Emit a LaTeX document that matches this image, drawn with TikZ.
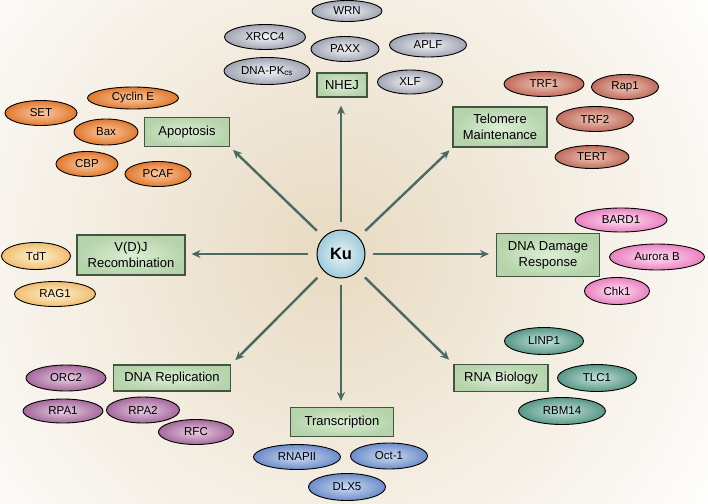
\documentclass[tikz,border=0pt]{standalone}
\usepackage{fontspec}
\setmainfont{Liberation Sans}
\usetikzlibrary{arrows.meta,shapes.geometric}
\definecolor{bgc}{RGB}{232,218,194}
\definecolor{arrowc}{RGB}{74,106,98}
\definecolor{boxin}{RGB}{220,237,213}
\definecolor{boxout}{RGB}{182,212,172}
\definecolor{boxline}{RGB}{66,84,66}
\definecolor{gin}{RGB}{244,245,248}\definecolor{gout}{RGB}{160,164,178}
\definecolor{oin}{RGB}{252,204,164}\definecolor{oout}{RGB}{224,120,48}
\definecolor{rin}{RGB}{242,198,184}\definecolor{rout}{RGB}{190,108,92}
\definecolor{pin}{RGB}{255,226,244}\definecolor{pout}{RGB}{234,128,192}
\definecolor{yin}{RGB}{255,242,208}\definecolor{yout}{RGB}{240,190,114}
\definecolor{vin}{RGB}{234,206,230}\definecolor{vout}{RGB}{164,104,154}
\definecolor{bin}{RGB}{206,220,244}\definecolor{bout}{RGB}{108,140,200}
\definecolor{tin}{RGB}{196,228,218}\definecolor{tout}{RGB}{88,150,134}
\definecolor{kin}{RGB}{232,244,248}\definecolor{kout}{RGB}{160,202,218}
\begin{document}
\begin{tikzpicture}[x=1pt,y=-1pt,
  catbox/.style={draw=boxline,line width=1.1pt,inner color=boxin,outer color=boxout,
    rectangle,inner sep=0pt,align=center,font=\fontsize{13}{16}\selectfont},
  prot/.style={ellipse,draw=black,line width=0.9pt,inner sep=0pt,
    font=\fontsize{11.5}{13}\selectfont},
  pg/.style={prot,inner color=gin,outer color=gout},
  po/.style={prot,inner color=oin,outer color=oout},
  pr/.style={prot,inner color=rin,outer color=rout},
  pp/.style={prot,inner color=pin,outer color=pout},
  py/.style={prot,inner color=yin,outer color=yout},
  pv/.style={prot,inner color=vin,outer color=vout},
  pb/.style={prot,inner color=bin,outer color=bout},
  pt/.style={prot,inner color=tin,outer color=tout},
  link/.style={draw=arrowc,line width=2.4pt,-{Stealth[length=9pt,width=8pt]}}
]
\useasboundingbox (0,0) rectangle (708,503);
\begin{scope}
\clip (0,0) rectangle (708,503);
\shade[inner color=bgc,outer color=white] (330,250) circle (470);
\end{scope}

% Ku
\node[circle,draw=black,line width=1pt,inner color=kin,outer color=kout,minimum size=48pt,inner sep=0pt,
  font=\fontsize{16.5}{18}\selectfont\bfseries] (ku) at (341,254) {Ku};

% categories
\node[catbox,minimum width=50pt,minimum height=24pt] (nhej) at (342,85) {NHEJ};
\node[catbox,minimum width=85pt,minimum height=29pt] (apop) at (187,132) {Apoptosis};
\node[catbox,minimum width=94pt,minimum height=40pt] (telo) at (500,127) {Telomere\\Maintenance};
\node[catbox,minimum width=108pt,minimum height=40pt] (vdj) at (131,255) {V(D)J\\Recombination};
\node[catbox,minimum width=103pt,minimum height=43pt] (ddr) at (548,255) {DNA Damage\\Response};
\node[catbox,minimum width=117pt,minimum height=26pt] (rep) at (172,378) {DNA Replication};
\node[catbox,minimum width=94pt,minimum height=27pt] (rna) at (501,378) {RNA Biology};
\node[catbox,minimum width=103pt,minimum height=29pt] (trans) at (342,422) {Transcription};

% arrows
\draw[link,shorten <=8pt,shorten >=8pt] (ku.north) -- (ku.north |- nhej.south);
\draw[link,shorten <=9pt,shorten >=4pt] (ku) -- (apop.south east);
\draw[link,shorten <=9pt,shorten >=4pt] (ku) -- (telo.south west);
\draw[link,shorten <=9pt,shorten >=6pt] (ku.west) -- (ku.west -| vdj.east);
\draw[link,shorten <=7pt,shorten >=7pt] (ku.east) -- (ku.east -| ddr.west);
\draw[link,shorten <=9pt,shorten >=6pt] (ku) -- (rep.north east);
\draw[link,shorten <=9pt,shorten >=6pt] (ku) -- (rna.north west);
\draw[link,shorten <=6pt,shorten >=6pt] (ku.south) -- (ku.south |- trans.north);

% NHEJ
\node[pg,minimum width=70pt,minimum height=21pt] (wrn) at (347,11) {WRN};
\node[pg,minimum width=81pt,minimum height=25pt] (xrcc4) at (265,37) {XRCC4};
\node[pg,minimum width=68pt,minimum height=25pt] (paxx) at (345,49) {PAXX};
\node[pg,minimum width=77pt,minimum height=24pt] (aplf) at (428,45) {APLF};
\node[pg,minimum width=86pt,minimum height=27pt] (dnapk) at (267,71) {DNA-PK\textsubscript{cs}};
\node[pg,minimum width=65pt,minimum height=24pt] (xlf) at (410,82) {XLF};

% Apoptosis
\node[po,minimum width=91pt,minimum height=22pt] (cyce) at (133,98) {Cyclin E};
\node[po,minimum width=72pt,minimum height=25pt] (set) at (41,113) {SET};
\node[po,minimum width=64pt,minimum height=26pt] (bax) at (106,132) {Bax};
\node[po,minimum width=62pt,minimum height=25pt] (cbp) at (87,164) {CBP};
\node[po,minimum width=66pt,minimum height=25pt] (pcaf) at (158,174) {PCAF};

% Telomere
\node[pr,minimum width=80pt,minimum height=25pt] (trf1) at (544,84) {TRF1};
\node[pr,minimum width=67pt,minimum height=25pt] (rap1) at (625,87) {Rap1};
\node[pr,minimum width=77pt,minimum height=25pt] (trf2) at (595,119) {TRF2};
\node[pr,minimum width=74pt,minimum height=23pt] (tert) at (592,157) {TERT};

% DNA damage
\node[pp,minimum width=92pt,minimum height=24pt] (bard1) at (621,220) {BARD1};
\node[pp,minimum width=95pt,minimum height=26pt] (aurb) at (657,257) {Aurora B};
\node[pp,minimum width=65pt,minimum height=27pt] (chk1) at (617,291) {Chk1};

% V(D)J
\node[py,minimum width=69pt,minimum height=27pt] (tdt) at (36,256) {TdT};
\node[py,minimum width=81pt,minimum height=25pt] (rag1) at (55,294) {RAG1};

% Replication
\node[pv,minimum width=80pt,minimum height=26pt] (orc2) at (66,378) {ORC2};
\node[pv,minimum width=80pt,minimum height=24pt] (rpa1) at (63,411) {RPA1};
\node[pv,minimum width=73pt,minimum height=26pt] (rpa2) at (143,410) {RPA2};
\node[pv,minimum width=75pt,minimum height=25pt] (rfc) at (196,432) {RFC};

% Transcription
\node[pb,minimum width=87pt,minimum height=25pt] (rnapii) at (297,457) {RNAPII};
\node[pb,minimum width=77pt,minimum height=26pt] (oct1) at (389,456) {Oct-1};
\node[pb,minimum width=77pt,minimum height=27pt] (dlx5) at (347,487) {DLX5};

% RNA biology
\node[pt,minimum width=79pt,minimum height=27pt] (linp1) at (544,341) {LINP1};
\node[pt,minimum width=79pt,minimum height=27pt] (tlc1) at (597,378) {TLC1};
\node[pt,minimum width=87pt,minimum height=27pt] (rbm14) at (562,411) {RBM14};
\end{tikzpicture}
\end{document}
